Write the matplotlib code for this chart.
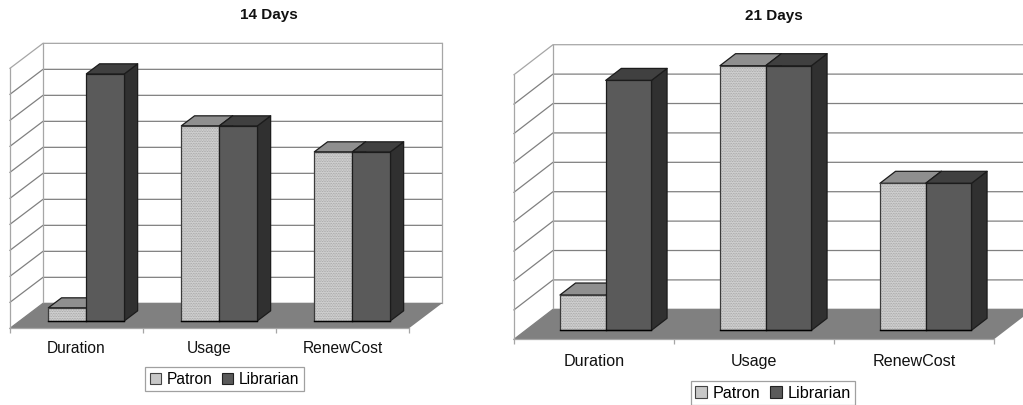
import matplotlib
matplotlib.use('Agg')
import matplotlib.pyplot as plt
from matplotlib.patches import Polygon, Patch

plt.rcParams['font.family'] = ['Liberation Sans', 'DejaVu Sans']
plt.rcParams['hatch.linewidth'] = 0.4

categories = ['Duration', 'Usage', 'RenewCost']
series_names = ['Patron', 'Librarian']

patron_14 = [0.5, 7.5, 6.5]
librarian_14 = [9.5, 7.5, 6.5]
patron_21 = [1.2, 9.0, 5.0]
librarian_21 = [8.5, 9.0, 5.0]

W, H = 1023, 405
BAR_W = 0.286
D0, D1 = 0.3, 0.7
EDGE = '#1c1c1c'
PATRON_HATCH = '..........'
DOT = '#989898'

fig = plt.figure(figsize=(W / 100, H / 100), dpi=100)


def poly(ax, pts, face, edge=EDGE, hatch=None, z=3):
    if hatch:
        ax.add_patch(Polygon(pts, closed=True, facecolor=face, edgecolor=DOT, hatch=hatch,
                             linewidth=0, clip_on=False, zorder=z))
        face = 'none'
    ax.add_patch(Polygon(pts, closed=True, facecolor=face, edgecolor=edge, linewidth=0.9,
                         clip_on=False, zorder=z, joinstyle='round'))


def panel(title, patron, librarian, x0, x1, y_front, unit, levels, dep_x, dep_y, title_x, title_y, legend_box,
          font, pad):
    # axes covers the front plane of the 3d box
    top_px = y_front - levels * unit
    ax = fig.add_axes([x0 / W, 1 - y_front / H, (x1 - x0) / W, (y_front - top_px) / H])
    ax.patch.set_alpha(0)
    floor = -0.3 * dep_y
    ax.set_xlim(0, 3)
    ax.set_ylim(floor, floor + levels)

    def pt(x, v, d):
        return (x + d * dep_x, floor + v + d * dep_y)

    # walls and gridlines
    for k in range(levels + 1):
        ax.plot([pt(0, k, 0)[0], pt(0, k, 1)[0], pt(3, k, 1)[0]],
                [pt(0, k, 0)[1], pt(0, k, 1)[1], pt(3, k, 1)[1]],
                color='#808080' if k < levels else '#a6a6a6', lw=0.9, clip_on=False, zorder=1)
    for x in [0, 3]:
        ax.plot([pt(x, 0, 1)[0], pt(x, levels, 1)[0]], [pt(x, 0, 1)[1], pt(x, levels, 1)[1]],
                color='#a6a6a6', lw=0.9, clip_on=False, zorder=1)

    # floor
    ax.add_patch(Polygon([pt(0, 0, 0), pt(3, 0, 0), pt(3, 0, 1), pt(0, 0, 1)], closed=True,
                         facecolor='#808080', edgecolor='none', clip_on=False, zorder=2))

    # bars, each drawn as a front, top and side face
    for i in range(len(categories)):
        for j, vals in enumerate([patron, librarian]):
            left = i + 0.5 - BAR_W + j * BAR_W
            right = left + BAR_W
            base = 0
            top = vals[i]
            if j == 0:
                front, top_c, side, hatch, edge = '#d0d0d0', '#8f8f8f', '#555555', PATRON_HATCH, '#3c3c3c'
            else:
                front, top_c, side, hatch, edge = '#5a5a5a', '#404040', '#303030', None, EDGE
            poly(ax, [pt(right, base, D0), pt(right, top, D0), pt(right, top, D1), pt(right, base, D1)],
                 side, EDGE, z=3 + i + j * 0.1)
            poly(ax, [pt(left, top, D0), pt(right, top, D0), pt(right, top, D1), pt(left, top, D1)],
                 top_c, EDGE, z=3 + i + j * 0.1)
            poly(ax, [pt(left, base, D0), pt(right, base, D0), pt(right, top, D0), pt(left, top, D0)],
                 front, edge, hatch=hatch, z=3 + i + j * 0.1)
            ax.plot([pt(left, base, D0)[0], pt(right, base, D0)[0]],
                    [pt(left, base, D0)[1], pt(right, base, D0)[1]],
                    color='black', lw=1.0, clip_on=False, zorder=3.5 + i)

    # axis lines and labels
    for s in ['top', 'right']:
        ax.spines[s].set_visible(False)
    for s in ['left', 'bottom']:
        ax.spines[s].set_color('#a6a6a6')
        ax.spines[s].set_linewidth(0.9)
    ax.set_yticks([])
    ax.set_xticks([0, 1, 2, 3])
    ax.set_xticklabels([])
    ax.set_xticks([0.5, 1.5, 2.5], minor=True)
    ax.set_xticklabels(categories, minor=True, fontsize=font, color='#111111')
    ax.tick_params(axis='x', which='major', length=3.5, width=0.9, color='#a6a6a6')
    ax.tick_params(axis='x', which='minor', length=0, pad=pad)

    fig.text(title_x / W, 1 - title_y / H, title, fontsize=11, fontweight='bold', ha='center', va='center',
             color='#111111')

    handles = [Patch(facecolor='#c8c8c8', edgecolor='#444444', linewidth=0.8),
               Patch(facecolor='#5a5a5a', edgecolor='#222222', linewidth=0.8)]
    bx, by, bw, bh = legend_box
    leg = fig.legend(handles, series_names, loc='center', fontsize=font,
                     bbox_to_anchor=((bx + bw / 2) / W, 1 - (by + bh / 2) / H), ncol=2,
                     frameon=True, fancybox=False, edgecolor='#a0a0a0', framealpha=1,
                     handlelength=0.72, handleheight=0.72, handletextpad=0.35, columnspacing=0.6,
                     borderpad=0.3, borderaxespad=0)
    leg.get_frame().set_linewidth(0.9)


panel('14 Days', patron_14, librarian_14, 10, 409, 328.3, 26.0, 10, 33 / 133, 0.96, 269, 15,
      (148, 367, 153, 24), 11.2, 9)
panel('21 Days', patron_21, librarian_21, 514, 994, 339.3, 29.4, 9, 39 / 160, 1.02, 774, 16,
      (694, 381, 158, 24), 11.6, 10.5)

fig.savefig('out.png', dpi=100)
